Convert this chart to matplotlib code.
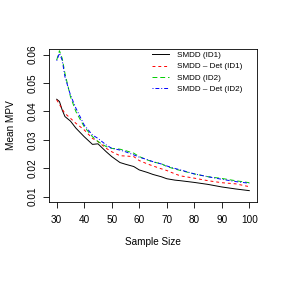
import matplotlib
matplotlib.use("Agg")
import matplotlib.pyplot as plt

# === Daten ===
sample_size = [30, 31, 32, 33, 35, 37, 40, 43, 45, 48, 50, 53, 55, 58, 60,
               63, 65, 68, 70, 73, 75, 80, 85, 90, 95, 100]
smdd_id1 = [0.0443, 0.0435, 0.0405, 0.0382, 0.0366, 0.0341, 0.0311, 0.0284, 0.0286,
            0.0258, 0.0241, 0.0220, 0.0214, 0.0206, 0.0194, 0.0185, 0.0178, 0.0170,
            0.0163, 0.0158, 0.0156, 0.0150, 0.0143, 0.0134, 0.0127, 0.0121]
smdd_det_id1 = [0.0441, 0.0425, 0.0408, 0.0393, 0.0376, 0.0358, 0.0335, 0.0305, 0.0294,
                0.0270, 0.0258, 0.0244, 0.0243, 0.0241, 0.0227, 0.0215, 0.0208, 0.0198,
                0.0192, 0.0180, 0.0173, 0.0165, 0.0156, 0.0149, 0.0145, 0.0135]
smdd_id2 = [0.0581, 0.0614, 0.0587, 0.0534, 0.0452, 0.0399, 0.0346, 0.0311, 0.0294,
            0.0276, 0.0270, 0.0267, 0.0262, 0.0253, 0.0241, 0.0229, 0.0222, 0.0216,
            0.0206, 0.0197, 0.0192, 0.0180, 0.0170, 0.0164, 0.0156, 0.0149]
smdd_det_id2 = [0.0579, 0.0605, 0.0580, 0.0522, 0.0458, 0.0411, 0.0352, 0.0317, 0.0305,
                0.0282, 0.0270, 0.0264, 0.0258, 0.0247, 0.0239, 0.0230, 0.0223, 0.0215,
                0.0208, 0.0199, 0.0194, 0.0180, 0.0170, 0.0161, 0.0153, 0.0147]
x_ticks = [30, 40, 50, 60, 70, 80, 90, 100]
y_ticks = [0.01, 0.02, 0.03, 0.04, 0.05, 0.06]

plt.rcParams["font.family"] = ["Liberation Sans", "DejaVu Sans"]

fig = plt.figure(figsize=(2.82, 3.0), dpi=100)
ax = fig.add_axes([49 / 282, 1 - 202 / 300, 208 / 282, 153 / 300])

lw = 0.7
ax.plot(sample_size, smdd_id1, color="black", lw=lw, label="SMDD (ID1)")
ax.plot(sample_size, smdd_det_id1, color="red", lw=lw, dashes=(3, 3), label="SMDD \u2013 Det (ID1)")
ax.plot(sample_size, smdd_id2, color="#00CD00", lw=lw, dashes=(5, 3), label="SMDD (ID2)")
ax.plot(sample_size, smdd_det_id2, color="blue", lw=lw, dashes=(1, 2, 4, 2), label="SMDD \u2013 Det (ID2)")

ax.set_xlim(27.2, 102.8)
ax.set_ylim(0.0081, 0.062)
ax.set_xticks(x_ticks)
ax.set_yticks(y_ticks)
ax.set_yticklabels([f"{v:.2f}" for v in y_ticks], rotation=90, va="center")
ax.tick_params(direction="out", length=4.3, width=0.6, labelsize=7.2)
ax.tick_params(axis="x", pad=5)
ax.tick_params(axis="y", pad=4)
for s in ax.spines.values():
    s.set_linewidth(0.6)

ax.set_xlabel("Sample Size", fontsize=7.2, labelpad=9)
ax.set_ylabel("Mean MPV", fontsize=7.2, labelpad=8)

ax.legend(loc="upper left", bbox_to_anchor=(0.494, 0.985), frameon=False,
          fontsize=5.9, handlelength=2.1, handletextpad=1.0, borderpad=0,
          borderaxespad=0, labelspacing=0.45)

plt.savefig("out.png", dpi=100)
